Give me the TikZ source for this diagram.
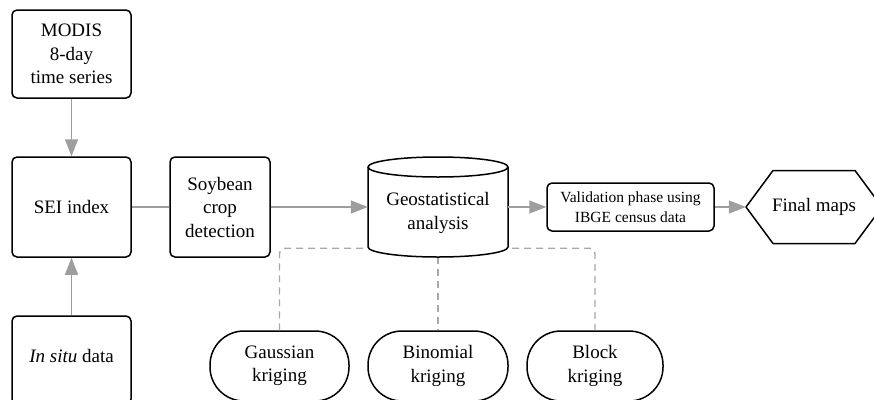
\documentclass[tikz,border=0pt]{standalone}
\usepackage{fontspec}
\setmainfont{Liberation Serif}
\usetikzlibrary{arrows.meta,calc}
\definecolor{arrowgray}{HTML}{9E9E9E}
\definecolor{dashgray}{HTML}{A8A8A8}
\tikzset{
  boxnode/.style={draw=black, line width=1.5pt, rounded corners=5pt, align=center, inner sep=2pt, font=\fontsize{19}{23.5}\selectfont},
  pillnode/.style={draw=black, line width=1.5pt, rounded corners=34pt, align=center, inner sep=2pt, minimum height=70pt, font=\fontsize{19}{23.5}\selectfont},
  plainnode/.style={align=center, inner sep=0pt, font=\fontsize{19}{23.5}\selectfont},
  conn/.style={draw=arrowgray, line width=1.6pt},
  arr/.style={conn, -{Triangle[length=17pt,width=13pt]}},
  dashline/.style={draw=dashgray, line width=1.4pt, dash pattern=on 7pt off 5pt, rounded corners=6pt}
}
\begin{document}
\begin{tikzpicture}[x=1pt,y=-1pt]
\useasboundingbox (0,0) rectangle (874,399);
\clip (0,0) rectangle (874,399);
% nodes
\node[boxnode, minimum width=119pt, minimum height=88pt] (modis) at (71.5,54) {MODIS\\8-day\\time series};
\node[boxnode, minimum width=119pt, minimum height=100pt] (sei) at (71.5,207) {SEI index};
\node[boxnode, minimum width=119pt, minimum height=88pt, text depth=0pt] (insitu) at (71.5,360) {\raisebox{8pt}{\textit{In situ} data}};
\node[boxnode, minimum width=100pt, minimum height=100pt] (soy) at (220,207) {Soybean\\crop\\detection};
\node[boxnode, minimum width=167pt, minimum height=48pt, font=\fontsize{15.5}{19.5}\selectfont] (valid) at (630.5,207) {Validation phase using\\IBGE census data};
\node[pillnode, minimum width=139pt] (gauss) at (279.5,366) {Gaussian\\kriging};
\node[pillnode, minimum width=140pt] (binom) at (438,366) {Binomial\\kriging};
\node[pillnode, minimum width=136pt] (block) at (595,366) {Block\\kriging};
% geostatistical cylinder frame node
\node[minimum width=140pt, minimum height=100pt, inner sep=0pt] (geo) at (438,207) {};
% dashed connectors (behind cylinder)
\draw[dashline] (gauss.north) |- ($(geo.south)+(0,-9)$) -| (block.north);
\draw[dashline] (geo.south) -- (binom.north);
% cylinder
\draw[line width=1.5pt, fill=white] (368,167) -- (368,247)
  arc[start angle=180, end angle=0, x radius=70, y radius=10] -- (508,167)
  arc[start angle=0, end angle=-180, x radius=70, y radius=10] -- cycle;
\draw[line width=1.5pt] (368,167) arc[start angle=180, end angle=0, x radius=70, y radius=10];
\node[plainnode] (geotext) at (438,213) {Geostatistical\\analysis};
% hexagon
\node[plainnode, minimum width=136pt, minimum height=73pt] (final) at (814,207) {Final maps};
\draw[line width=1.5pt, line join=round] (746,207) -- (773,170.5) -- (855,170.5) -- (882,207) -- (855,243.5) -- (773,243.5) -- cycle;
% connectors
\draw[arr] (modis.south) -- (sei.north);
\draw[arr] (insitu.north) -- (sei.south);
\draw[conn] (sei.east) -- (soy.west);
\draw[arr] (soy.east) -- (geo.west);
\draw[arr] (geo.east) -- (valid.west);
\draw[arr] (valid.east) -- (final.west);
\end{tikzpicture}
\end{document}
